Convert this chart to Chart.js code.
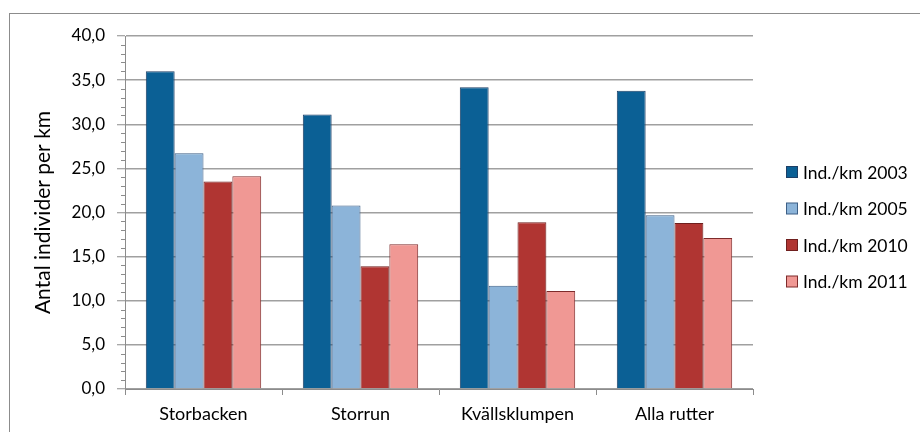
<!DOCTYPE html>
<html lang="sv">
<head>
  <meta charset="UTF-8">
  <title>Antal individer per km</title>
  <script src="https://cdn.jsdelivr.net/npm/chart.js"></script>
  <style>
    html, body { margin: 0; padding: 0; background: #fff; }
    #wrap { position: relative; width: 920px; height: 432px; overflow: hidden; }
    #frame { position: absolute; left: 9px; top: 13px; width: 930px; height: 440px; border: 1px solid #8c8c8c; box-sizing: border-box; }
    #c { position: absolute; left: 0; top: 0; }
  </style>
</head>
<body>
<div id="wrap">
  <div id="frame"></div>
  <canvas id="c" width="920" height="432"></canvas>
</div>
<script>
const categories = ['Storbacken', 'Storrun', 'Kvällsklumpen', 'Alla rutter'];
const seriesNames = ['Ind./km 2003', 'Ind./km 2005', 'Ind./km 2010', 'Ind./km 2011'];
const v2003 = [36.0, 31.1, 34.2, 33.8];
const v2005 = [26.7, 20.8, 11.7, 19.7];
const v2010 = [23.5, 13.9, 18.9, 18.8];
const v2011 = [24.1, 16.4, 11.1, 17.1];
const yMin = 0, yMax = 40, yStep = 5;

const fills = ['#0b6095', '#8cb4d9', '#b03532', '#f09894'];
const edges = ['#1d3f66', '#3d5f86', '#6f1f1e', '#7e2b2b'];
const FONT = 'Lato, "Open Sans", sans-serif';

// minor ticks on the y axis + legend drawn to the right
const extras = {
  id: 'extras',
  afterDraw(chart) {
    const ctx = chart.ctx;
    const y = chart.scales.y;
    const x0 = y.right;
    ctx.save();
    ctx.strokeStyle = '#8c8c8c';
    ctx.lineWidth = 1;
    for (let v = yMin; v <= yMax; v += 1) {
      if (v % yStep === 0) continue;
      const py = Math.round(y.getPixelForValue(v)) + 0.5;
      ctx.beginPath();
      ctx.moveTo(x0 - 4, py);
      ctx.lineTo(x0, py);
      ctx.stroke();
    }
    // legend
    ctx.font = '17.5px ' + FONT;
    ctx.textBaseline = 'middle';
    chart.data.datasets.forEach((ds, i) => {
      const cy = 172 + i * 36.5;
      ctx.fillStyle = ds.backgroundColor;
      ctx.fillRect(786.5, cy - 5.5, 11, 11);
      ctx.strokeStyle = ds.borderColor;
      ctx.strokeRect(786.5, cy - 5.5, 11, 11);
      ctx.fillStyle = '#000';
      ctx.fillText(ds.label, 803, cy + 1);
    });
    ctx.restore();
  }
};

const seriesValues = [v2003, v2005, v2010, v2011];

new Chart(document.getElementById('c'), {
  type: 'bar',
  data: {
    labels: categories,
    datasets: seriesValues.map((vals, i) => ({
      label: seriesNames[i],
      data: vals,
      backgroundColor: fills[i],
      borderColor: edges[i],
      borderWidth: 1,
      categoryPercentage: 0.735,
      barPercentage: 1.0
    }))
  },
  options: {
    responsive: false,
    animation: false,
    layout: { padding: { left: 0, right: 167, top: 36, bottom: 0 } },
    plugins: {
      legend: { display: false },
      tooltip: { enabled: false }
    },
    scales: {
      x: {
        grid: { offset: true, drawOnChartArea: false, tickLength: 6, color: '#8c8c8c', lineWidth: 1 },
        border: { color: '#8c8c8c', width: 1 },
        ticks: { color: '#000', font: { family: FONT, size: 18 }, padding: 8 },
        afterFit(scale) { scale.height = 43; }
      },
      y: {
        min: yMin,
        max: yMax,
        ticks: {
          stepSize: yStep,
          color: '#000',
          font: { family: FONT, size: 17 },
          padding: 12,
          callback: v => v.toFixed(1).replace('.', ',')
        },
        grid: { color: '#a0a0a0', lineWidth: 1.5, tickLength: 8, tickColor: '#8c8c8c', tickWidth: 1 },
        border: { color: '#8c8c8c', width: 1 },
        title: {
          display: true,
          text: 'Antal individer per km',
          color: '#000',
          font: { family: FONT, size: 21 },
          padding: { top: 31, bottom: 0 }
        },
        afterFit(scale) { scale.width = 125; }
      }
    }
  },
  plugins: [extras]
});
</script>
</body>
</html>
